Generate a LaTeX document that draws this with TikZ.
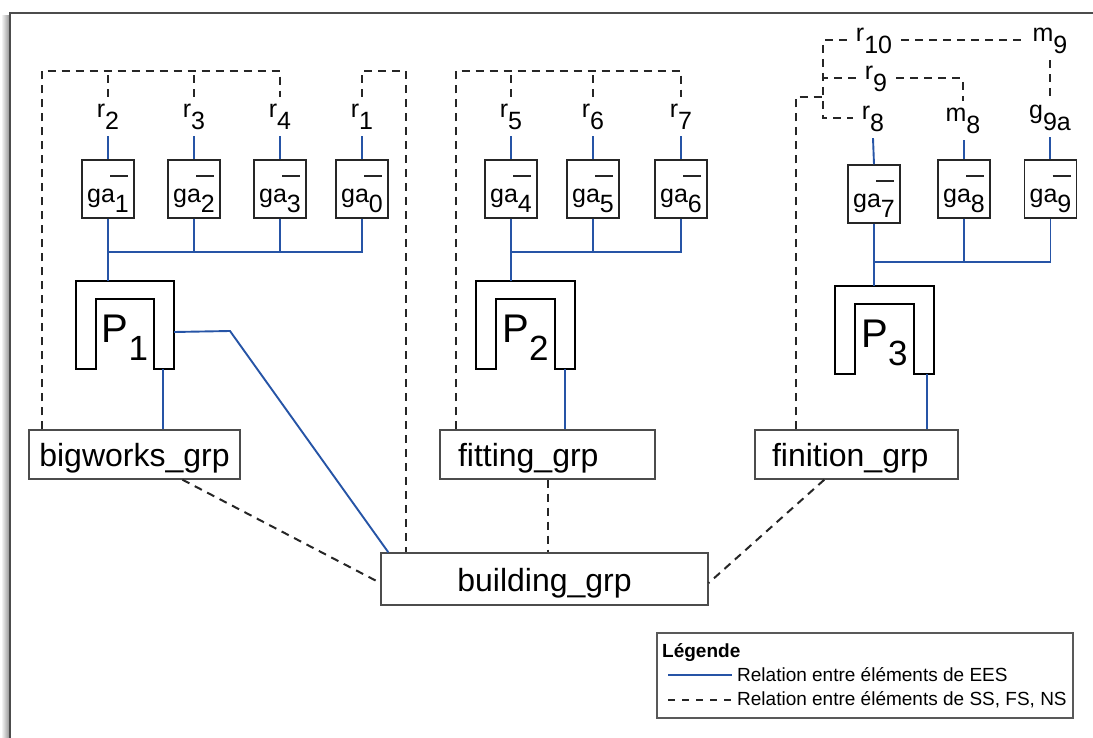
\documentclass[tikz,border=0pt]{standalone}
\usepackage{fontspec}
\setmainfont{Liberation Sans}
\definecolor{eesblue}{RGB}{38,84,166}
\newcommand\lsub[1]{\raisebox{-0.48em}{#1}}
\newcommand\gsub[1]{\raisebox{-0.38em}{#1}}
\newcommand\psub[1]{\raisebox{-18pt}{\fontsize{35}{40}\selectfont #1}}
\newcommand\drawU[1]{\draw[ushape] (#1.south west) -- (#1.north west) -- (#1.north east) -- (#1.south east) -- ++(-20,0) -- ([xshift=-20pt,yshift=-18pt]#1.north east) -- ([xshift=20pt,yshift=-18pt]#1.north west) -- ([xshift=20pt]#1.south west) -- cycle;}
\begin{document}
\begin{tikzpicture}[x=1pt,y=-1pt,
  ees/.style={draw=eesblue, line width=1.9pt},
  ss/.style={draw=black!85, line width=2pt, dash pattern=on 8pt off 6pt},
  rl/.style={font=\fontsize{25}{29}\selectfont, inner ysep=3pt, inner xsep=9pt, text height=18pt, text depth=15pt, anchor=base},
  gabox/.style={draw=black!85, line width=1.5pt, minimum width=52pt, minimum height=58pt, inner sep=0pt,
    font=\fontsize{25}{29}\selectfont, text height=34pt, text depth=6pt,
    path picture={\draw[line width=1.6pt] ([xshift=-24pt,yshift=-16pt]path picture bounding box.north east) -- ++(18,0);}},
  pbox/.style={minimum width=98pt, minimum height=88pt, inner sep=0pt, font=\fontsize{40}{44}\selectfont, text height=40pt, text depth=6pt},
  ushape/.style={draw=black, line width=2pt, line join=miter},
  grp/.style={draw=black!70, line width=1.3pt, font=\fontsize{32}{36}\selectfont, inner sep=0pt, text height=25pt, text depth=1pt},
  legtext/.style={font=\fontsize{19}{22}\selectfont, inner ysep=0pt, inner xsep=5pt, anchor=base west}
]
\useasboundingbox (0,0) rectangle (1093,738);
% frame
\shade[left color=white, right color=black!45] (1,16) rectangle (10,760);
\draw[black!70, line width=1.5pt] (10,760) -- (10,13) -- (1110,13);

% ---------- group 1 ----------
\node[rl] (r2) at (108,118) {r\lsub{2}};
\node[rl] (r3) at (194,118) {r\lsub{3}};
\node[rl] (r4) at (280,118) {r\lsub{4}};
\node[rl] (r1) at (362,118) {r\lsub{1}};
\node[gabox] (ga1) at (108,189) {ga\gsub{1}};
\node[gabox] (ga2) at (194,189) {ga\gsub{2}};
\node[gabox] (ga3) at (280,189) {ga\gsub{3}};
\node[gabox] (ga0) at (362,189) {ga\gsub{0}};
\node[pbox] (P1) at (125,325) {P\psub{1}};
\drawU{P1}
\node[grp, minimum width=211pt, minimum height=49pt] (bigworks) at (134.5,454.5) {bigworks\_grp};

% ---------- group 2 ----------
\node[rl] (r5) at (511,118) {r\lsub{5}};
\node[rl] (r6) at (593,118) {r\lsub{6}};
\node[rl] (r7) at (681,118) {r\lsub{7}};
\node[gabox] (ga4) at (511,189) {ga\gsub{4}};
\node[gabox] (ga5) at (593,189) {ga\gsub{5}};
\node[gabox] (ga6) at (681,189) {ga\gsub{6}};
\node[pbox] (P2) at (525.5,325) {P\psub{2}};
\drawU{P2}
\node[grp, minimum height=49pt, text width=179pt, inner xsep=18pt, align=left] (fitting) at (547.5,454.5) {fitting\_grp};

% ---------- group 3 ----------
\node[rl] (r10) at (874,42) {r\lsub{10}};
\node[rl] (m9) at (1050,42) {m\lsub{9}};
\node[rl] (r9) at (876,80) {r\lsub{9}};
\node[rl] (r8) at (873,120) {r\lsub{8}};
\node[rl] (m8) at (963,122) {m\lsub{8}};
\node[rl] (g9a) at (1050,119) {g\lsub{9a}};
\node[gabox] (ga7) at (874,194) {ga\gsub{7}};
\node[gabox] (ga8) at (964,189) {ga\gsub{8}};
\node[gabox] (ga9) at (1050.5,189) {ga\gsub{9}};
\node[pbox] (P3) at (884.5,330) {P\psub{3}};
\drawU{P3}
\node[grp, minimum height=49pt, text width=169pt, inner xsep=17pt, align=left] (finition) at (856.5,454.5) {finition\_grp};

% ---------- building ----------
\node[grp, minimum width=327pt, minimum height=52pt] (building) at (544.5,579) {building\_grp};

% ---------- EES connectors (blue) ----------
\coordinate (j1) at (108,252);
\draw[ees] (r2.south) -- (ga1.north);
\draw[ees] (r3.south) -- (ga2.north);
\draw[ees] (r4.south) -- (ga3.north);
\draw[ees] (r1.south) -- (ga0.north);
\draw[ees] (ga1.south) -- (ga1.south |- P1.north);
\draw[ees] (j1) -- (ga0.south |- j1) -- (ga0.south);
\draw[ees] (ga2.south) -- (ga2.south |- j1);
\draw[ees] (ga3.south) -- (ga3.south |- j1);
\coordinate (p1leg) at ([xshift=-11pt]P1.south east);
\draw[ees] (p1leg) -- (p1leg |- bigworks.north);
\coordinate (p1r) at ([yshift=-7pt]P1.east);
\coordinate (p1bend) at (230,331);
\draw[ees] (p1r) -- (p1bend) -- ([xshift=8pt]building.north west);

\coordinate (j2) at (511,252);
\draw[ees] (r5.south) -- (ga4.north);
\draw[ees] (r6.south) -- (ga5.north);
\draw[ees] (r7.south) -- (ga6.north);
\draw[ees] (ga4.south) -- (ga4.south |- P2.north);
\draw[ees] (j2) -- (ga6.south |- j2) -- (ga6.south);
\draw[ees] (ga5.south) -- (ga5.south |- j2);
\coordinate (p2leg) at ([xshift=-10pt]P2.south east);
\draw[ees] (p2leg) -- (p2leg |- fitting.north);

\coordinate (j3) at (874,262);
\draw[ees] (r8.south) -- (ga7.north);
\draw[ees] (m8.south -| ga8.north) -- (ga8.north);
\draw[ees] (g9a.south) -- (g9a.south |- ga9.north);
\draw[ees] (ga7.south) -- (ga7.south |- P3.north);
\draw[ees] (j3) -- (ga9.south |- j3) -- (ga9.south);
\draw[ees] (ga8.south) -- (ga8.south |- j3);
\coordinate (p3leg) at ([xshift=-7pt]P3.south east);
\draw[ees] (p3leg) -- (p3leg |- finition.north);

% ---------- SS/FS/NS connectors (dashed) ----------
\coordinate (t1) at (42,71);
\draw[ss] (bigworks.north -| t1) -- (t1) -- (r4.north |- t1) -- (r4.north);
\draw[ss] (r2.north) -- (r2.north |- t1);
\draw[ss] (r3.north) -- (r3.north |- t1);
\coordinate (t1b) at (406,71);
\draw[ss] (r1.north) -- (r1.north |- t1b) -- (t1b) -- (t1b |- building.north);
\draw[ss] ([xshift=154pt]bigworks.south west) -- ([yshift=-4pt]building.west);

\coordinate (t2) at (456,71);
\draw[ss] (fitting.north -| t2) -- (t2) -- (r7.north |- t2) -- (r7.north);
\draw[ss] (r5.north) -- (r5.north |- t2);
\draw[ss] (r6.north) -- (r6.north |- t2);
\draw[ss] (fitting.south) -- (fitting.south |- building.north);

\coordinate (c1) at (823,39);
\draw[ss] (r10.west) -- (r10.west -| c1) -- (c1 |- r8.west) -- (r8.west);
\draw[ss] (r10.east) -- (m9.west);
\draw[ss] (m9.south) -- (g9a.north);
\draw[ss] (r9.west) -- (r9.west -| c1);
\draw[ss] (r9.east) -- (m8.north |- r9.east) -- (m8.north);
\coordinate (c3) at (796,97);
\draw[ss] (finition.north -| c3) -- (c3) -- (c3 -| c1);
\draw[ss] ([xshift=70pt]finition.south west) -- ([yshift=-4pt]building.east);

% ---------- legend ----------
\node[draw=black!65, line width=1.3pt, minimum width=416pt, minimum height=85pt, inner sep=0pt] (legend) at (865,675.5) {};
\node[anchor=base west, font=\fontsize{19}{22}\selectfont\bfseries, inner sep=0pt] (lt) at (662,657) {Légende};
\node[legtext] (l1) at (732,681) {Relation entre éléments de EES};
\node[legtext] (l2) at (732,705) {Relation entre éléments de SS, FS, NS};
\coordinate (s1) at (668,675);
\coordinate (s2) at (668,700);
\draw[ees] (s1) -- (s1 -| l1.west);
\draw[draw=black!85, line width=2pt, dash pattern=on 7pt off 7pt] (s2) -- (s2 -| l2.west);
\end{tikzpicture}
\end{document}
